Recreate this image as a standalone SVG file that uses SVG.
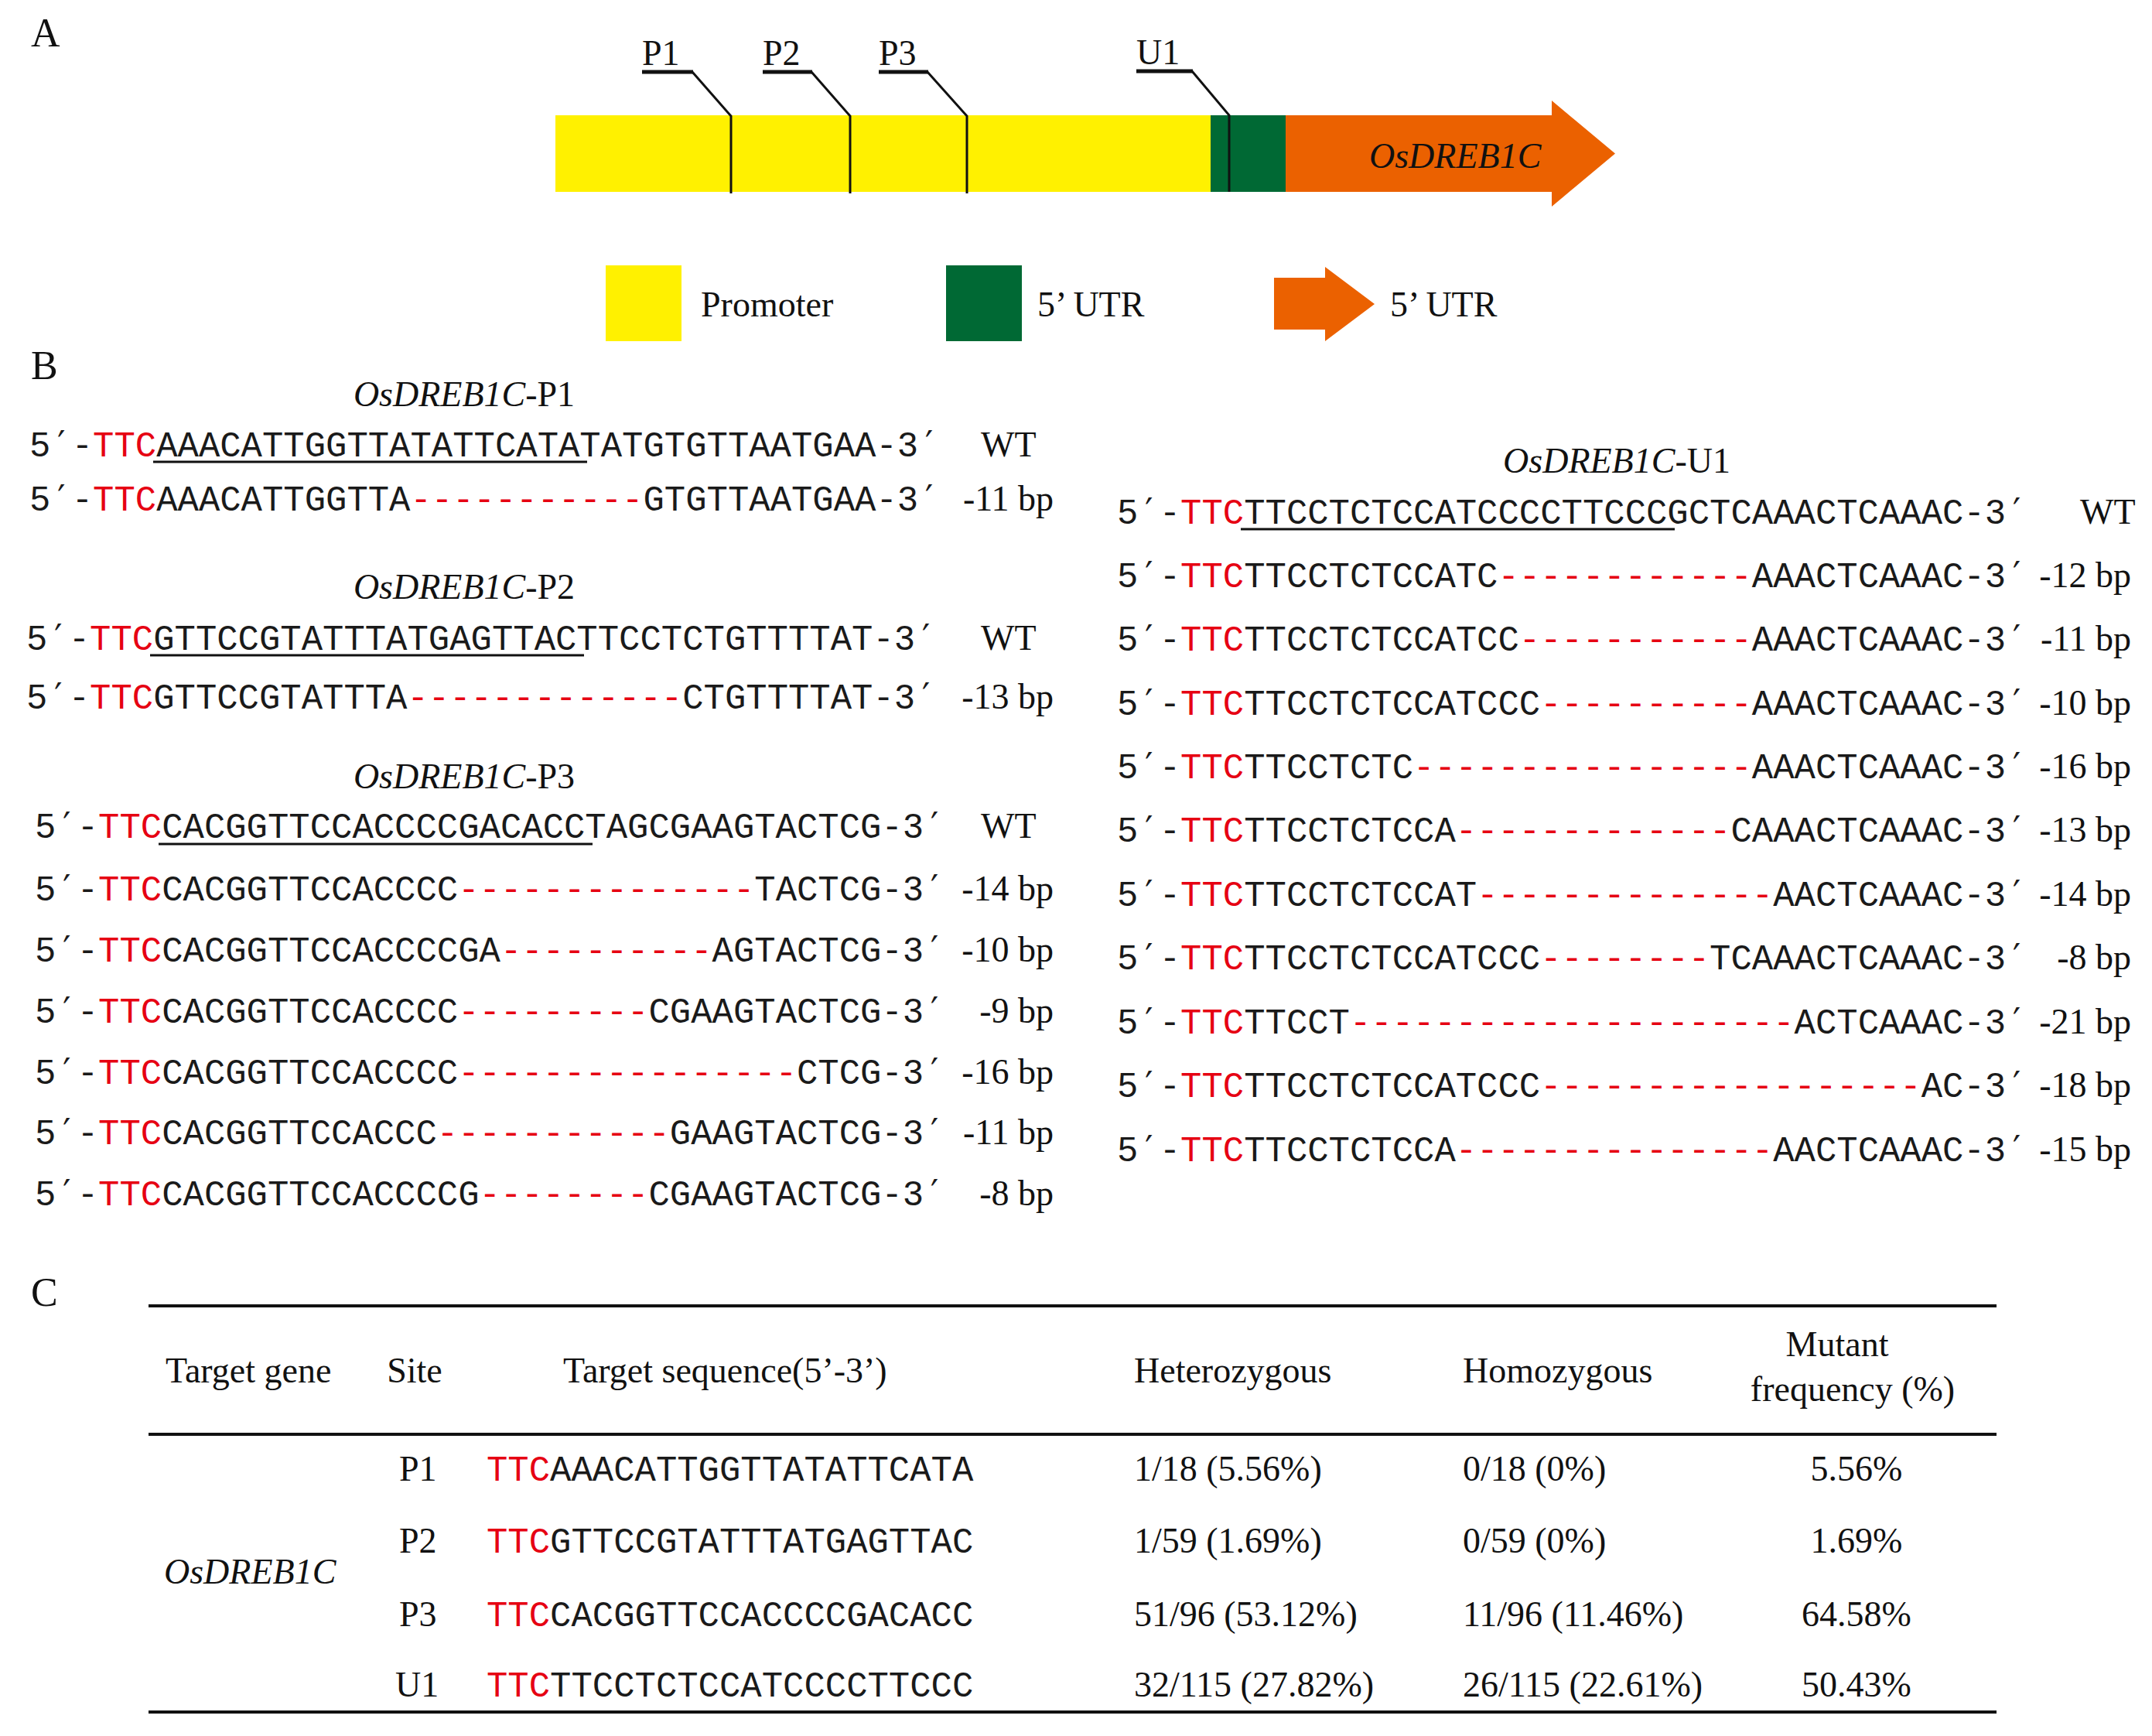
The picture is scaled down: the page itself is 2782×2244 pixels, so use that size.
<svg xmlns="http://www.w3.org/2000/svg" width="2782" height="2244" viewBox="0 0 2782 2244">
<style>
.s{font-family:"Liberation Serif","Times New Roman",serif;font-size:46px;fill:#111}
.i{font-style:italic}
.lab{font-family:"Liberation Serif","Times New Roman",serif;font-size:52px;fill:#111}
.m{font-family:"Liberation Mono","Courier New",monospace;font-size:45.6px;fill:#1a1a1a}
.p{font-family:"DejaVu Sans Mono","DejaVu Sans",monospace}
.r{fill:#e60012}
.ul{stroke:#111;stroke-width:3}
.ld{fill:none;stroke:#111;stroke-width:3}
.ldu{stroke:#111;stroke-width:5}
.rule{stroke:#111;stroke-width:4}
</style>
<rect width="2782" height="2244" fill="#fff"/>
<!-- Panel A -->
<text class="lab" x="40" y="60">A</text>
<g id="promoter"><rect x="718" y="149" width="847" height="99" fill="#fff100"/></g>
<g id="utr"><rect x="1565" y="149" width="97" height="99" fill="#006934"/></g>
<g id="cds"><path d="M1662,149 H2006 V130 L2088,198.5 L2006,267 V248 H1662 Z" fill="#eb6100"/>
<text class="s i" x="1770" y="217">OsDREB1C</text></g>
<g id="connectors">
<path class="ld" d="M895,93 L945,150 V250"/><line class="ldu" x1="830" y1="93" x2="896" y2="93"/>
<path class="ld" d="M1049,93 L1099,150 V250"/><line class="ldu" x1="986" y1="93" x2="1050" y2="93"/>
<path class="ld" d="M1199,93 L1250,150 V250"/><line class="ldu" x1="1136" y1="93" x2="1200" y2="93"/>
<path class="ld" d="M1541,92 L1589,149 V248"/><line class="ldu" x1="1469" y1="92" x2="1542" y2="92"/>
</g>
<g id="site-labels">
<text class="s" x="830" y="84">P1</text>
<text class="s" x="986" y="84">P2</text>
<text class="s" x="1136" y="84">P3</text>
<text class="s" x="1469" y="83">U1</text>
</g>
<g id="legend">
<rect x="783" y="343" width="98" height="98" fill="#fff100"/>
<text class="s" x="906" y="409">Promoter</text>
<rect x="1223" y="343" width="98" height="98" fill="#006934"/>
<text class="s" x="1341" y="409">5’ UTR</text>
<path d="M1647,359 H1713 V345 L1777,393 L1713,441 V426 H1647 Z" fill="#eb6100"/>
<text class="s" x="1797" y="409">5’ UTR</text>
</g>
<!-- Panel B -->
<text class="lab" x="40" y="490">B</text>
<g id="P1">
<text class="s" x="600" y="525" text-anchor="middle"><tspan class="i">OsDREB1C</tspan>-P1</text>
<text class="m" x="38" y="590">5<tspan class="p">′</tspan><tspan x="92.7">-</tspan><tspan class="r">TTC</tspan>AAACATTGGTTATATTCATATATGTGTTAATGAA-3<tspan class="p">′</tspan></text>
<line class="ul" x1="198" y1="597" x2="759" y2="597"/>
<text class="s" x="1268" y="590">WT</text>
<text class="m" x="38" y="660">5<tspan class="p">′</tspan><tspan x="92.7">-</tspan><tspan class="r">TTC</tspan>AAACATTGGTTA<tspan class="r">-----------</tspan>GTGTTAATGAA-3<tspan class="p">′</tspan></text>
<text class="s" x="1362" y="660" text-anchor="end">-11 bp</text>
</g>
<g id="P2">
<text class="s" x="600" y="774" text-anchor="middle"><tspan class="i">OsDREB1C</tspan>-P2</text>
<text class="m" x="34" y="840">5<tspan class="p">′</tspan><tspan x="88.7">-</tspan><tspan class="r">TTC</tspan>GTTCCGTATTTATGAGTTACTTCCTCTGTTTTAT-3<tspan class="p">′</tspan></text>
<line class="ul" x1="194" y1="847" x2="755" y2="847"/>
<text class="s" x="1268" y="840">WT</text>
<text class="m" x="34" y="916">5<tspan class="p">′</tspan><tspan x="88.7">-</tspan><tspan class="r">TTC</tspan>GTTCCGTATTTA<tspan class="r">-------------</tspan>CTGTTTTAT-3<tspan class="p">′</tspan></text>
<text class="s" x="1362" y="916" text-anchor="end">-13 bp</text>
</g>
<g id="P3">
<text class="s" x="600" y="1019" text-anchor="middle"><tspan class="i">OsDREB1C</tspan>-P3</text>
<text class="m" x="45" y="1083">5<tspan class="p">′</tspan><tspan x="99.7">-</tspan><tspan class="r">TTC</tspan>CACGGTTCCACCCCGACACCTAGCGAAGTACTCG-3<tspan class="p">′</tspan></text>
<line class="ul" x1="205" y1="1091" x2="766" y2="1091"/>
<text class="s" x="1268" y="1083">WT</text>
<text class="m" x="45" y="1164">5<tspan class="p">′</tspan><tspan x="99.7">-</tspan><tspan class="r">TTC</tspan>CACGGTTCCACCCC<tspan class="r">--------------</tspan>TACTCG-3<tspan class="p">′</tspan></text>
<text class="s" x="1362" y="1164" text-anchor="end">-14 bp</text>
<text class="m" x="45" y="1243">5<tspan class="p">′</tspan><tspan x="99.7">-</tspan><tspan class="r">TTC</tspan>CACGGTTCCACCCCGA<tspan class="r">----------</tspan>AGTACTCG-3<tspan class="p">′</tspan></text>
<text class="s" x="1362" y="1243" text-anchor="end">-10 bp</text>
<text class="m" x="45" y="1322">5<tspan class="p">′</tspan><tspan x="99.7">-</tspan><tspan class="r">TTC</tspan>CACGGTTCCACCCC<tspan class="r">---------</tspan>CGAAGTACTCG-3<tspan class="p">′</tspan></text>
<text class="s" x="1362" y="1322" text-anchor="end">-9 bp</text>
<text class="m" x="45" y="1401">5<tspan class="p">′</tspan><tspan x="99.7">-</tspan><tspan class="r">TTC</tspan>CACGGTTCCACCCC<tspan class="r">----------------</tspan>CTCG-3<tspan class="p">′</tspan></text>
<text class="s" x="1362" y="1401" text-anchor="end">-16 bp</text>
<text class="m" x="45" y="1479">5<tspan class="p">′</tspan><tspan x="99.7">-</tspan><tspan class="r">TTC</tspan>CACGGTTCCACCC<tspan class="r">-----------</tspan>GAAGTACTCG-3<tspan class="p">′</tspan></text>
<text class="s" x="1362" y="1479" text-anchor="end">-11 bp</text>
<text class="m" x="45" y="1558">5<tspan class="p">′</tspan><tspan x="99.7">-</tspan><tspan class="r">TTC</tspan>CACGGTTCCACCCCG<tspan class="r">--------</tspan>CGAAGTACTCG-3<tspan class="p">′</tspan></text>
<text class="s" x="1362" y="1558" text-anchor="end">-8 bp</text>
</g>
<g id="U1">
<text class="s" x="2090" y="611" text-anchor="middle"><tspan class="i">OsDREB1C</tspan>-U1</text>
<text class="m" x="1444" y="677">5<tspan class="p">′</tspan><tspan x="1498.7">-</tspan><tspan class="r">TTC</tspan>TTCCTCTCCATCCCCTTCCCGCTCAAACTCAAAC-3<tspan class="p">′</tspan></text>
<line class="ul" x1="1604" y1="684" x2="2165" y2="684"/>
<text class="s" x="2689" y="677">WT</text>
<text class="m" x="1444" y="759">5<tspan class="p">′</tspan><tspan x="1498.7">-</tspan><tspan class="r">TTC</tspan>TTCCTCTCCATC<tspan class="r">------------</tspan>AAACTCAAAC-3<tspan class="p">′</tspan></text>
<text class="s" x="2755" y="759" text-anchor="end">-12 bp</text>
<text class="m" x="1444" y="841">5<tspan class="p">′</tspan><tspan x="1498.7">-</tspan><tspan class="r">TTC</tspan>TTCCTCTCCATCC<tspan class="r">-----------</tspan>AAACTCAAAC-3<tspan class="p">′</tspan></text>
<text class="s" x="2755" y="841" text-anchor="end">-11 bp</text>
<text class="m" x="1444" y="924">5<tspan class="p">′</tspan><tspan x="1498.7">-</tspan><tspan class="r">TTC</tspan>TTCCTCTCCATCCC<tspan class="r">----------</tspan>AAACTCAAAC-3<tspan class="p">′</tspan></text>
<text class="s" x="2755" y="924" text-anchor="end">-10 bp</text>
<text class="m" x="1444" y="1006">5<tspan class="p">′</tspan><tspan x="1498.7">-</tspan><tspan class="r">TTC</tspan>TTCCTCTC<tspan class="r">----------------</tspan>AAACTCAAAC-3<tspan class="p">′</tspan></text>
<text class="s" x="2755" y="1006" text-anchor="end">-16 bp</text>
<text class="m" x="1444" y="1088">5<tspan class="p">′</tspan><tspan x="1498.7">-</tspan><tspan class="r">TTC</tspan>TTCCTCTCCA<tspan class="r">-------------</tspan>CAAACTCAAAC-3<tspan class="p">′</tspan></text>
<text class="s" x="2755" y="1088" text-anchor="end">-13 bp</text>
<text class="m" x="1444" y="1171">5<tspan class="p">′</tspan><tspan x="1498.7">-</tspan><tspan class="r">TTC</tspan>TTCCTCTCCAT<tspan class="r">--------------</tspan>AACTCAAAC-3<tspan class="p">′</tspan></text>
<text class="s" x="2755" y="1171" text-anchor="end">-14 bp</text>
<text class="m" x="1444" y="1253">5<tspan class="p">′</tspan><tspan x="1498.7">-</tspan><tspan class="r">TTC</tspan>TTCCTCTCCATCCC<tspan class="r">--------</tspan>TCAAACTCAAAC-3<tspan class="p">′</tspan></text>
<text class="s" x="2755" y="1253" text-anchor="end">-8 bp</text>
<text class="m" x="1444" y="1336">5<tspan class="p">′</tspan><tspan x="1498.7">-</tspan><tspan class="r">TTC</tspan>TTCCT<tspan class="r">---------------------</tspan>ACTCAAAC-3<tspan class="p">′</tspan></text>
<text class="s" x="2755" y="1336" text-anchor="end">-21 bp</text>
<text class="m" x="1444" y="1418">5<tspan class="p">′</tspan><tspan x="1498.7">-</tspan><tspan class="r">TTC</tspan>TTCCTCTCCATCCC<tspan class="r">------------------</tspan>AC-3<tspan class="p">′</tspan></text>
<text class="s" x="2755" y="1418" text-anchor="end">-18 bp</text>
<text class="m" x="1444" y="1501">5<tspan class="p">′</tspan><tspan x="1498.7">-</tspan><tspan class="r">TTC</tspan>TTCCTCTCCA<tspan class="r">---------------</tspan>AACTCAAAC-3<tspan class="p">′</tspan></text>
<text class="s" x="2755" y="1501" text-anchor="end">-15 bp</text>
</g>
<!-- Panel C -->
<text class="lab" x="40" y="1688">C</text>
<g id="table">
<line class="rule" x1="192" y1="1688" x2="2581" y2="1688"/>
<line class="rule" x1="192" y1="1854" x2="2581" y2="1854"/>
<line class="rule" x1="192" y1="2213" x2="2581" y2="2213"/>
<text class="s" x="214" y="1787">Target gene</text>
<text class="s" x="536" y="1787" text-anchor="middle">Site</text>
<text class="s" x="728" y="1787">Target sequence(5’-3’)</text>
<text class="s" x="1466" y="1787">Heterozygous</text>
<text class="s" x="1891" y="1787">Homozygous</text>
<text class="s" x="2375" y="1753" text-anchor="middle">Mutant</text>
<text class="s" x="2395" y="1811" text-anchor="middle">frequency (%)</text>
<text class="s i" x="212" y="2047">OsDREB1C</text>
<text class="s" x="516" y="1914">P1</text>
<text class="s" x="516" y="2007">P2</text>
<text class="s" x="516" y="2102">P3</text>
<text class="s" x="511" y="2193">U1</text>
<text class="m" x="629" y="1914"><tspan class="r">TTC</tspan>AAACATTGGTTATATTCATA</text>
<text class="m" x="629" y="2007"><tspan class="r">TTC</tspan>GTTCCGTATTTATGAGTTAC</text>
<text class="m" x="629" y="2102"><tspan class="r">TTC</tspan>CACGGTTCCACCCCGACACC</text>
<text class="m" x="629" y="2193"><tspan class="r">TTC</tspan>TTCCTCTCCATCCCCTTCCC</text>
<text class="s" x="1466" y="1914">1/18 (5.56%)</text>
<text class="s" x="1466" y="2007">1/59 (1.69%)</text>
<text class="s" x="1466" y="2102">51/96 (53.12%)</text>
<text class="s" x="1466" y="2193">32/115 (27.82%)</text>
<text class="s" x="1891" y="1914">0/18 (0%)</text>
<text class="s" x="1891" y="2007">0/59 (0%)</text>
<text class="s" x="1891" y="2102">11/96 (11.46%)</text>
<text class="s" x="1891" y="2193">26/115 (22.61%)</text>
<text class="s" x="2400" y="1914" text-anchor="middle">5.56%</text>
<text class="s" x="2400" y="2007" text-anchor="middle">1.69%</text>
<text class="s" x="2400" y="2102" text-anchor="middle">64.58%</text>
<text class="s" x="2400" y="2193" text-anchor="middle">50.43%</text>
</g>
</svg>
